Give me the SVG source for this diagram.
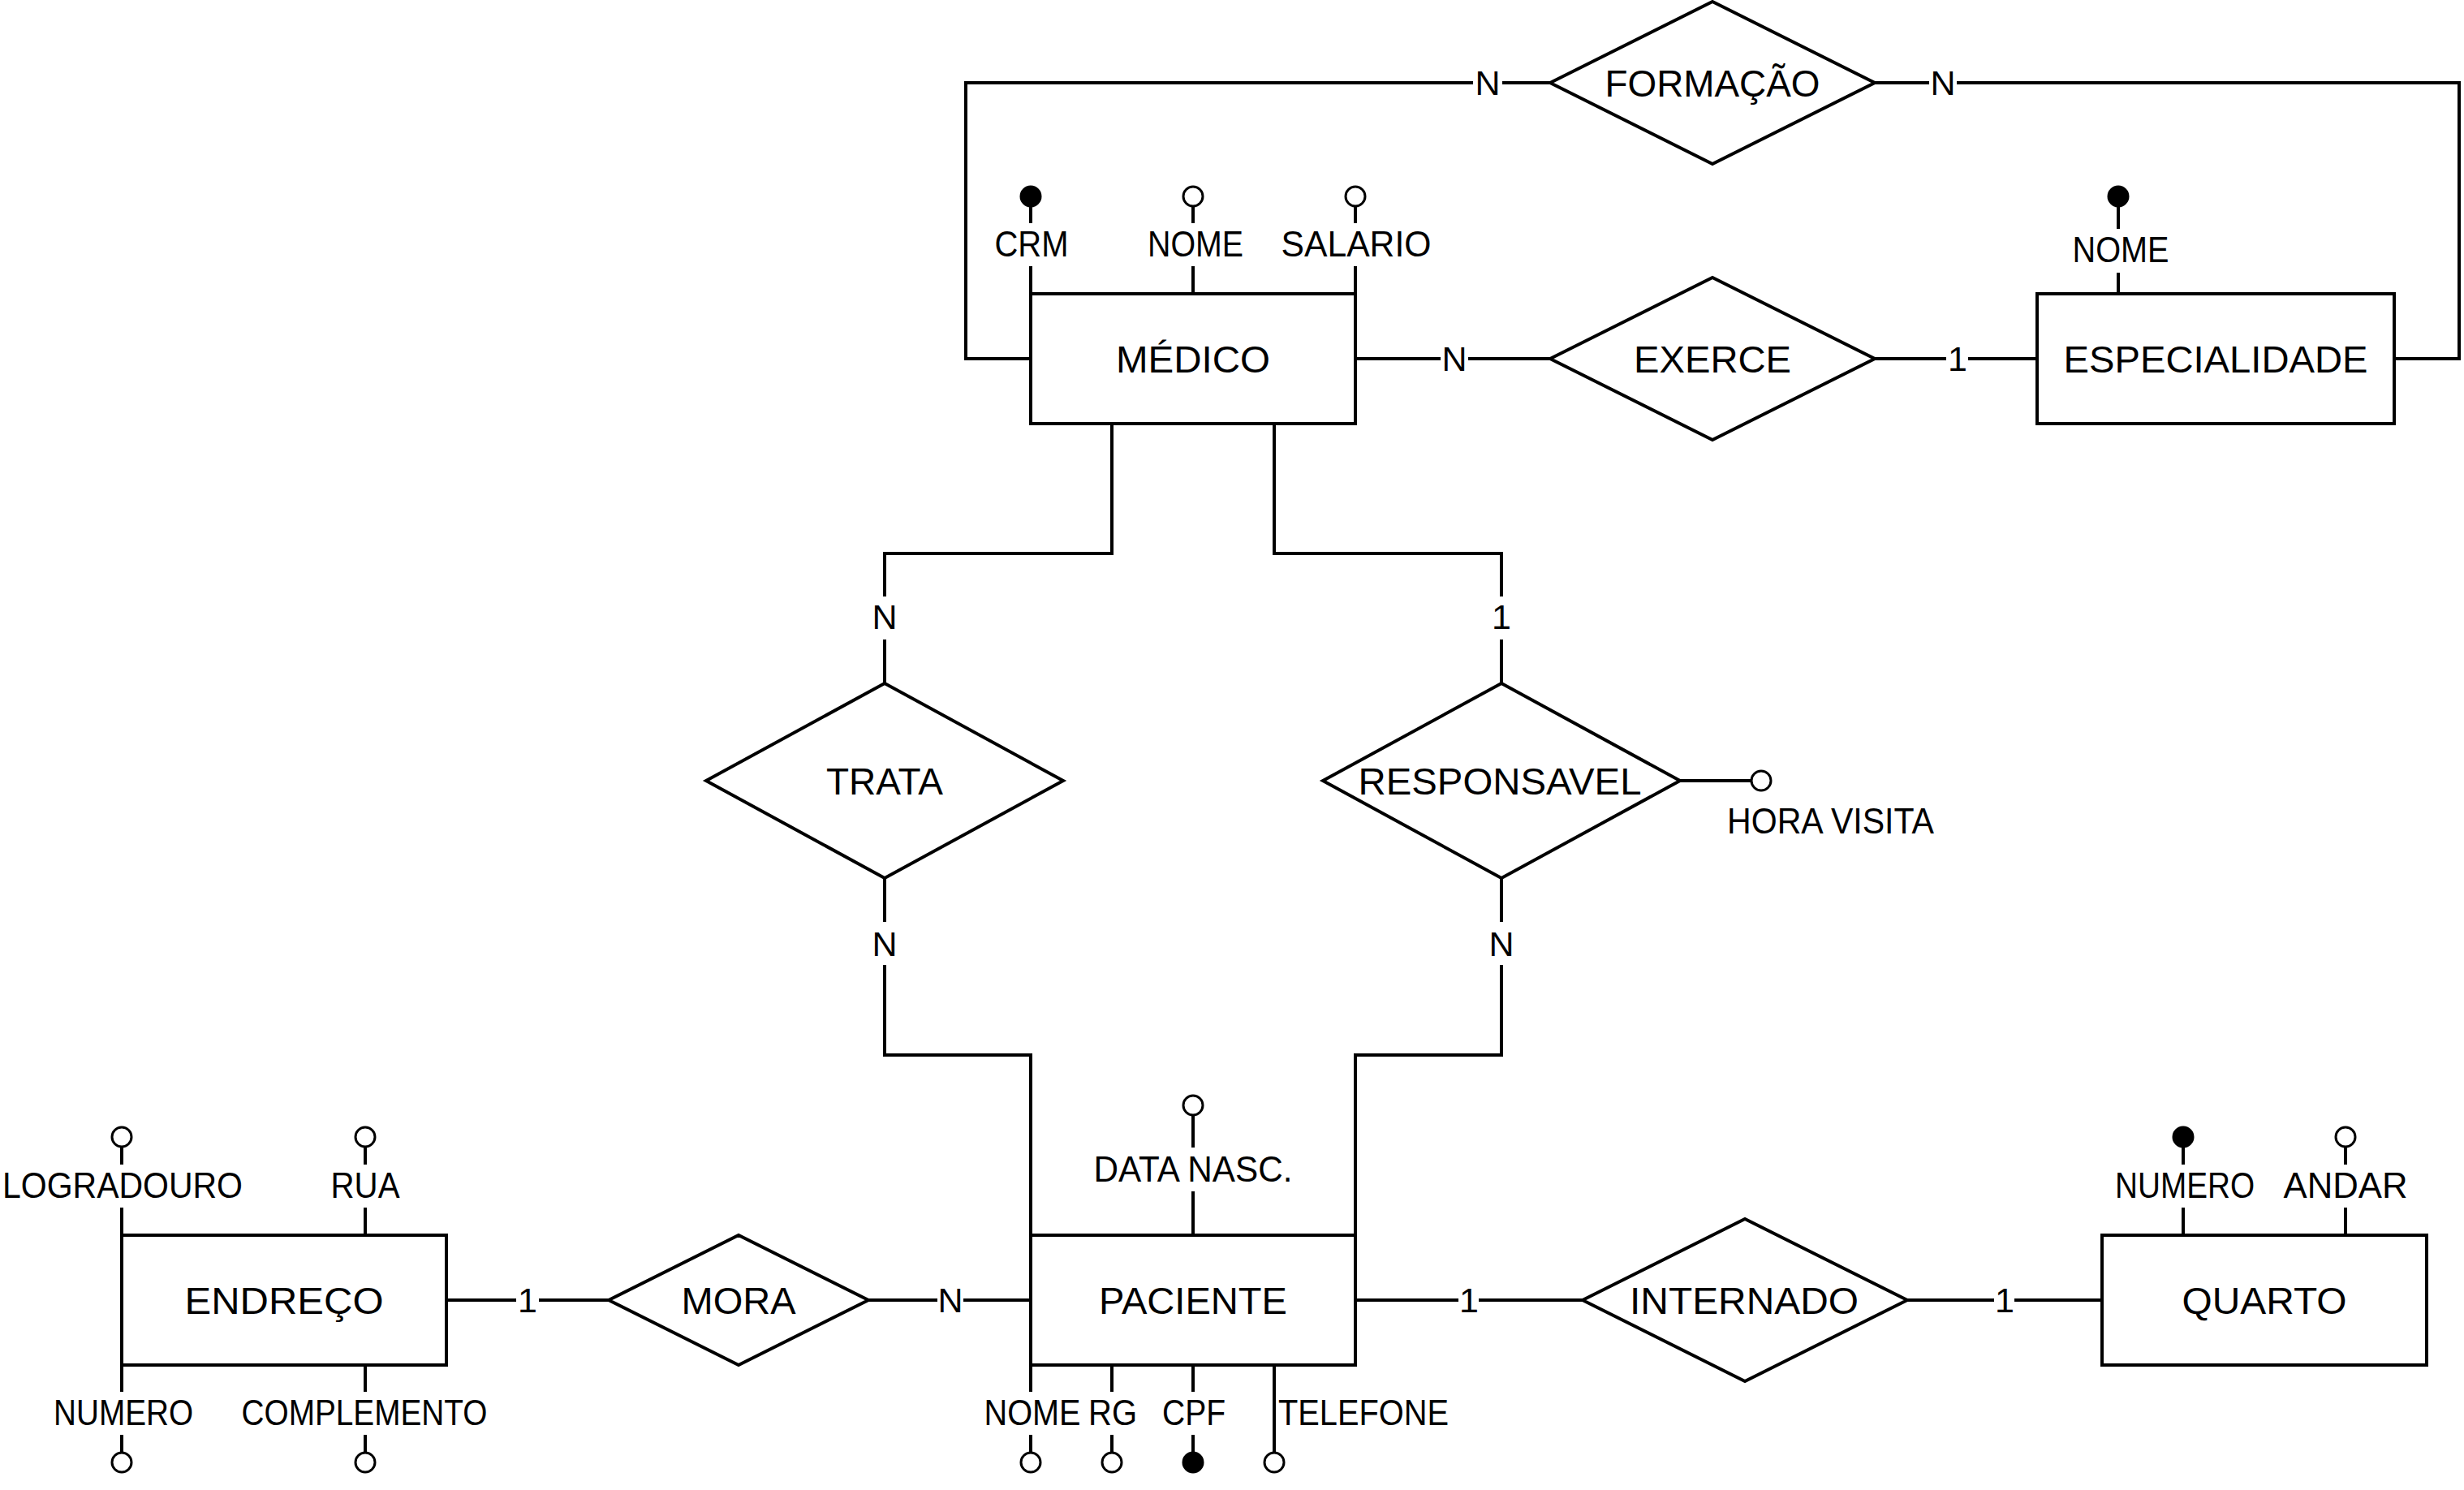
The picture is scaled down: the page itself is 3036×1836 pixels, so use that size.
<svg xmlns="http://www.w3.org/2000/svg" width="3036" height="1836" viewBox="0 0 3036 1836">
<style>
  .bg{fill:#fff}
  .box{fill:#fff;stroke:#000;stroke-width:4}
  .rel{fill:#fff;stroke:#000;stroke-width:4;stroke-linejoin:miter}
  .ln{fill:none;stroke:#000;stroke-width:4}
  .att{fill:none;stroke:#000;stroke-width:4}
  .o{fill:#fff;stroke:#000;stroke-width:3}
  .k{fill:#000;stroke:#000;stroke-width:3}
  text{font-family:"Liberation Sans",Arial,sans-serif;fill:#000}
  .name{font-size:47px;text-anchor:middle}
  .a{font-size:44px;text-anchor:middle}
  .al{font-size:44px;text-anchor:start}
  .c{font-size:43px;text-anchor:middle}
</style>
<rect class="bg" x="0" y="0" width="3036" height="1836"/>

<g id="connectors">
  <path class="ln" d="M1270,442 H1190 V102 H1815 M1851,102 H1910"/>
  <path class="ln" d="M2310,102 H2377 M2411,102 H3030 V442 H2950"/>
  <path class="ln" d="M1670,442 H1775 M1809,442 H1910"/>
  <path class="ln" d="M2310,442 H2398 M2425,442 H2510"/>
  <path class="ln" d="M1370,522 V682 H1090 V735 M1090,788 V842"/>
  <path class="ln" d="M1090,1082 V1136 M1090,1189 V1300 H1270 V1522"/>
  <path class="ln" d="M1570,522 V682 H1850 V735 M1850,788 V842"/>
  <path class="ln" d="M1850,1082 V1136 M1850,1189 V1300 H1670 V1522"/>
  <path class="ln" d="M550,1602 H636 M664,1602 H750 M1070,1602 H1155 M1187,1602 H1270"/>
  <path class="ln" d="M1670,1602 H1797 M1822,1602 H1950 M2350,1602 H2457 M2482,1602 H2590"/>
  <text class="c" x="1833" y="117">N</text>
  <text class="c" x="2394" y="117">N</text>
  <text class="c" x="1792" y="457">N</text>
  <text class="c" x="2412" y="457">1</text>
  <text class="c" x="1090" y="775">N</text>
  <text class="c" x="1090" y="1178">N</text>
  <text class="c" x="1850" y="775">1</text>
  <text class="c" x="1850" y="1178">N</text>
  <text class="c" x="650" y="1617">1</text>
  <text class="c" x="1171" y="1617">N</text>
  <text class="c" x="1810" y="1617">1</text>
  <text class="c" x="2470" y="1617">1</text>
</g>

<g id="medico">
  <rect class="box" x="1270" y="362" width="400" height="160"/>
  <text class="name" x="1470" y="459" textLength="190" lengthAdjust="spacingAndGlyphs">MÉDICO</text>
  <path class="att" d="M1270,255 V275 M1270,328 V362 M1470,255 V275 M1470,328 V362 M1670,255 V275 M1670,328 V362"/>
  <circle class="k" cx="1270" cy="242" r="12"/>
  <circle class="o" cx="1470" cy="242" r="12"/>
  <circle class="o" cx="1670" cy="242" r="12"/>
  <text class="a" x="1271" y="316" textLength="91" lengthAdjust="spacingAndGlyphs">CRM</text>
  <text class="a" x="1473" y="316" textLength="118" lengthAdjust="spacingAndGlyphs">NOME</text>
  <text class="a" x="1671" y="316" textLength="185" lengthAdjust="spacingAndGlyphs">SALARIO</text>
</g>

<g id="especialidade">
  <rect class="box" x="2510" y="362" width="440" height="160"/>
  <text class="name" x="2730" y="459" textLength="375" lengthAdjust="spacingAndGlyphs">ESPECIALIDADE</text>
  <path class="att" d="M2610,255 V282 M2610,336 V362"/>
  <circle class="k" cx="2610" cy="242" r="12"/>
  <text class="a" x="2613" y="323" textLength="119" lengthAdjust="spacingAndGlyphs">NOME</text>
</g>

<g id="formacao">
  <polygon class="rel" points="1910,102 2110,2 2310,102 2110,202"/>
  <text class="name" x="2110" y="119" textLength="265" lengthAdjust="spacingAndGlyphs">FORMAÇÃO</text>
</g>

<g id="exerce">
  <polygon class="rel" points="1910,442 2110,342 2310,442 2110,542"/>
  <text class="name" x="2110" y="459" textLength="194" lengthAdjust="spacingAndGlyphs">EXERCE</text>
</g>

<g id="trata">
  <polygon class="rel" points="870,962 1090,842 1310,962 1090,1082"/>
  <text class="name" x="1090" y="979" textLength="144" lengthAdjust="spacingAndGlyphs">TRATA</text>
</g>

<g id="responsavel">
  <polygon class="rel" points="1630,962 1850,842 2070,962 1850,1082"/>
  <text class="name" x="1848" y="979" textLength="349" lengthAdjust="spacingAndGlyphs">RESPONSAVEL</text>
  <path class="att" d="M2070,962 H2158"/>
  <circle class="o" cx="2170" cy="962" r="12"/>
  <text class="al" x="2128" y="1027" textLength="255" lengthAdjust="spacingAndGlyphs">HORA VISITA</text>
</g>

<g id="paciente">
  <rect class="box" x="1270" y="1522" width="400" height="160"/>
  <text class="name" x="1470" y="1619" textLength="232" lengthAdjust="spacingAndGlyphs">PACIENTE</text>
  <path class="att" d="M1470,1375 V1414 M1470,1468 V1522"/>
  <circle class="o" cx="1470" cy="1362" r="12"/>
  <text class="a" x="1470" y="1456" textLength="245" lengthAdjust="spacingAndGlyphs">DATA NASC.</text>
  <path class="att" d="M1270,1682 V1715 M1270,1768 V1790 M1370,1682 V1715 M1370,1768 V1790 M1470,1682 V1715 M1470,1768 V1790 M1570,1682 V1790"/>
  <circle class="o" cx="1270" cy="1802" r="12"/>
  <circle class="o" cx="1370" cy="1802" r="12"/>
  <circle class="k" cx="1470" cy="1802" r="12"/>
  <circle class="o" cx="1570" cy="1802" r="12"/>
  <text class="a" x="1272" y="1756" textLength="119" lengthAdjust="spacingAndGlyphs">NOME</text>
  <text class="a" x="1371" y="1756" textLength="60" lengthAdjust="spacingAndGlyphs">RG</text>
  <text class="a" x="1471" y="1756" textLength="78" lengthAdjust="spacingAndGlyphs">CPF</text>
  <text class="al" x="1575" y="1756" textLength="210" lengthAdjust="spacingAndGlyphs">TELEFONE</text>
</g>

<g id="endereco">
  <rect class="box" x="150" y="1522" width="400" height="160"/>
  <text class="name" x="350" y="1619" textLength="245" lengthAdjust="spacingAndGlyphs">ENDREÇO</text>
  <path class="att" d="M150,1414 V1435 M150,1488 V1522 M450,1414 V1435 M450,1488 V1522"/>
  <circle class="o" cx="150" cy="1401" r="12"/>
  <circle class="o" cx="450" cy="1401" r="12"/>
  <text class="a" x="151" y="1476" textLength="296" lengthAdjust="spacingAndGlyphs">LOGRADOURO</text>
  <text class="a" x="450" y="1476" textLength="85" lengthAdjust="spacingAndGlyphs">RUA</text>
  <path class="att" d="M150,1682 V1715 M150,1768 V1790 M450,1682 V1715 M450,1768 V1790"/>
  <circle class="o" cx="150" cy="1802" r="12"/>
  <circle class="o" cx="450" cy="1802" r="12"/>
  <text class="a" x="152" y="1756" textLength="172" lengthAdjust="spacingAndGlyphs">NUMERO</text>
  <text class="a" x="449" y="1756" textLength="303" lengthAdjust="spacingAndGlyphs">COMPLEMENTO</text>
</g>

<g id="mora">
  <polygon class="rel" points="750,1602 910,1522 1070,1602 910,1682"/>
  <text class="name" x="910" y="1619" textLength="141" lengthAdjust="spacingAndGlyphs">MORA</text>
</g>

<g id="internado">
  <polygon class="rel" points="1950,1602 2150,1502 2350,1602 2150,1702"/>
  <text class="name" x="2149" y="1619" textLength="282" lengthAdjust="spacingAndGlyphs">INTERNADO</text>
</g>

<g id="quarto">
  <rect class="box" x="2590" y="1522" width="400" height="160"/>
  <text class="name" x="2790" y="1619" textLength="203" lengthAdjust="spacingAndGlyphs">QUARTO</text>
  <path class="att" d="M2690,1414 V1435 M2690,1488 V1522 M2890,1414 V1435 M2890,1488 V1522"/>
  <circle class="k" cx="2690" cy="1401" r="12"/>
  <circle class="o" cx="2890" cy="1401" r="12"/>
  <text class="a" x="2692" y="1476" textLength="172" lengthAdjust="spacingAndGlyphs">NUMERO</text>
  <text class="a" x="2890" y="1476" textLength="153" lengthAdjust="spacingAndGlyphs">ANDAR</text>
</g>
</svg>
